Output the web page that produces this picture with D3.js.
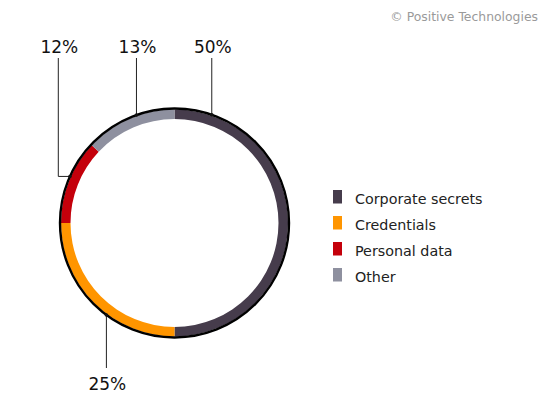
<!DOCTYPE html>
<html>
<head>
<meta charset="utf-8">
<script src="https://cdn.jsdelivr.net/npm/d3@7"></script>
<style>
  body { margin: 0; background: #fff; }
  text { font-family: "DejaVu Sans", sans-serif; }
</style>
</head>
<body>
<div id="vis"></div>
<script>
const width = 559,
  height = 417,
  cx = 174.5,
  cy = 223,
  rIn = 104,
  rOut = 113.5;

// data
const categories = ["Corporate secrets", "Credentials", "Personal data", "Other"];
const values = [50, 25, 12, 13];
const valueLabels = ["50%", "25%", "12%", "13%"];
const colors = ["#463c4c", "#ff9500", "#c4000b", "#8e909f"];

// where each leader line touches the ring (degrees, clockwise from top)
const leaderAngles = [19, 216.5, 294, 340.6];

const svg = d3
  .select("#vis")
  .append("svg")
  .attr("width", width)
  .attr("height", height);

svg
  .append("text")
  .attr("x", 538)
  .attr("y", 21)
  .attr("text-anchor", "end")
  .style("font-size", "12.4px")
  .style("fill", "#9a9a9a")
  .text("© Positive Technologies");

const pie = d3.pie().sort(null).value((d) => d);
const arc = d3.arc().innerRadius(rIn).outerRadius(rOut);

const g = svg.append("g").attr("transform", `translate(${cx},${cy})`);

g.selectAll("path")
  .data(pie(values))
  .enter()
  .append("path")
  .attr("d", arc)
  .style("fill", (d, i) => colors[i]);

// black outer rim
g.append("circle")
  .attr("r", rOut + 1)
  .style("fill", "none")
  .style("stroke", "#000")
  .style("stroke-width", 2.4);

// leader lines
function anchor(deg) {
  const a = (deg * Math.PI) / 180;
  return [cx + (rOut + 1) * Math.sin(a), cy - (rOut + 1) * Math.cos(a)];
}

const topY = 58,
  elbowX = 58.3;

valueLabels.forEach((lab, i) => {
  const [ax, ay] = anchor(leaderAngles[i]);
  const p = d3.path();
  let tx, ty;
  if (i === 1) {
    // below the ring
    p.moveTo(ax, ay);
    p.lineTo(ax, 368);
    tx = ax;
    ty = 390;
  } else if (i === 2) {
    // elbow out to the left
    p.moveTo(ax, ay);
    p.lineTo(elbowX, ay);
    p.lineTo(elbowX, topY);
    tx = elbowX;
    ty = 53;
  } else {
    p.moveTo(ax, ay);
    p.lineTo(ax, topY);
    tx = ax;
    ty = 53;
  }
  svg
    .append("path")
    .attr("d", p)
    .style("fill", "none")
    .style("stroke", "#222")
    .style("stroke-width", 1);
  svg
    .append("circle")
    .attr("cx", ax)
    .attr("cy", ay)
    .attr("r", 1.8)
    .style("fill", "#111");
  svg
    .append("text")
    .attr("x", tx + 1)
    .attr("y", ty)
    .attr("text-anchor", "middle")
    .style("font-size", "17px")
    .style("fill", "#111")
    .text(lab);
});

// legend
const legend = svg
  .selectAll("g.legend")
  .data(categories)
  .enter()
  .append("g")
  .attr("class", "legend")
  .attr("transform", (d, i) => `translate(333,${190 + i * 26})`);

legend
  .append("rect")
  .attr("width", 9)
  .attr("height", 13.5)
  .style("fill", (d, i) => colors[i]);

legend
  .append("text")
  .attr("x", 22)
  .attr("y", 13.5)
  .style("font-size", "14.3px")
  .style("fill", "#222")
  .text((d) => d);
</script>
</body>
</html>
